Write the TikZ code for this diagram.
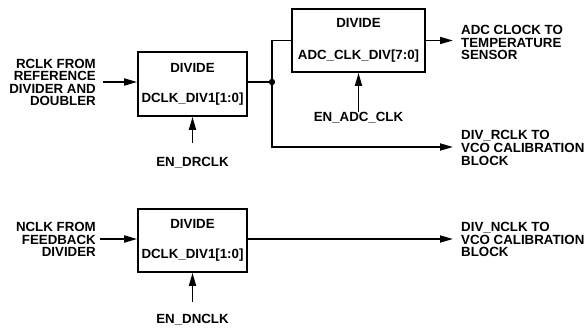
\documentclass[tikz,border=0pt]{standalone}
\usepackage{fontspec}
\setmainfont{Liberation Sans}
\usetikzlibrary{arrows.meta}
\tikzset{
  lbl/.style={font=\bfseries\fontsize{13.3}{12.6}\selectfont, inner sep=0pt},
  divbox/.style={draw, line width=1.7pt, minimum width=109pt, minimum height=64pt, inner sep=0pt, align=center, font=\bfseries\fontsize{13.3}{30}\selectfont},
  wire/.style={line width=1.7pt},
  arr/.style={line width=1.7pt, -{Triangle[length=13pt,width=7pt]}},
}
\begin{document}
\begin{tikzpicture}[x=1pt,y=-1pt]
\path[use as bounding box] (0,0) rectangle (588,327);
% top path
\node[divbox] (b1) at (192.5,84) {DIVIDE\\DCLK\_DIV1[1:0]};
\node[divbox, minimum width=133pt, minimum height=63pt, font=\bfseries\fontsize{13.3}{32}\selectfont] (b2) at (358.5,40.5) {DIVIDE\\ADC\_CLK\_DIV[7:0]};
\node[divbox, minimum height=63pt] (b3) at (192.5,240.5) {DIVIDE\\DCLK\_DIV1[1:0]};

\node[lbl, align=right, anchor=east] (rlab) at (96,82.5) {RCLK FROM\\REFERENCE\\DIVIDER AND\\DOUBLER};
\coordinate (rin) at (103,82);
\draw[arr] (rin) -- (rin -| b1.west);

\coordinate (j) at (272,82);
\draw[wire] (j -| b1.east) -- (j);
\fill (j) circle (3.2pt);
\draw[wire] (j) |- (b2.west);
\coordinate (rout) at (453,147);
\draw[arr] (j) |- (rout);
\node[lbl, align=left, anchor=west] (rrlab) at (461,148) {DIV\_RCLK TO\\VCO CALIBRATION\\BLOCK};

\coordinate (aout) at (453,40.5);
\draw[arr] (b2.east) -- (aout);
\node[lbl, align=left, anchor=west] (alab) at (461,42.5) {ADC CLOCK TO\\TEMPERATURE\\SENSOR};

\node[lbl] (enadc) at (358.5,118) {EN\_ADC\_CLK};
\coordinate (enadcs) at (358.5,112);
\draw[arr] (enadcs) -- (b2.south);

\node[lbl] (endr) at (192.5,163) {EN\_DRCLK};
\coordinate (endrs) at (192.5,143);
\draw[arr] (endrs) -- (b1.south);

% bottom path
\node[lbl, align=right, anchor=east] (nlab) at (96,239.5) {NCLK FROM\\FEEDBACK\\DIVIDER};
\coordinate (nin) at (100,239);
\draw[arr] (nin) -- (nin -| b3.west);
\coordinate (nout) at (453,239);
\draw[arr] (nout -| b3.east) -- (nout);
\node[lbl, align=left, anchor=west] (nrlab) at (461,239.5) {DIV\_NCLK TO\\VCO CALIBRATION\\BLOCK};

\node[lbl] (endn) at (192.5,320) {EN\_DNCLK};
\coordinate (endns) at (192.5,302);
\draw[arr] (endns) -- (b3.south);
\end{tikzpicture}
\end{document}
